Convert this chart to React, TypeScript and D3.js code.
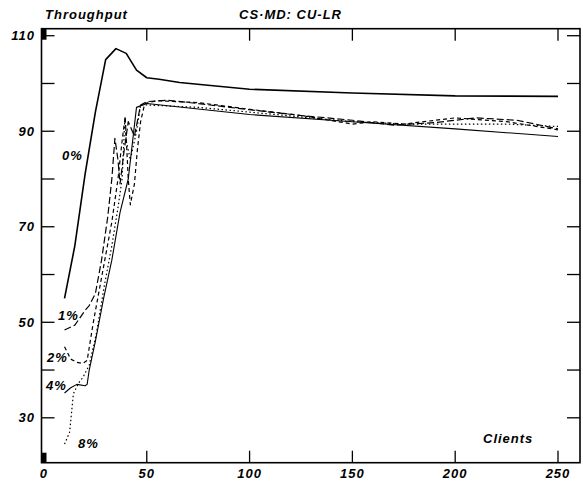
import React from "react";
import * as d3 from "d3";

const xTicks = [0, 50, 100, 150, 200, 250];
const yTicks = [30, 40, 50, 60, 70, 80, 90, 100, 110];
const yLabels = [30, 50, 70, 90, 110];

const s0: [number, number][] = [
  [10, 55], [15, 66], [20, 81], [25, 94], [30, 105], [35, 107.3], [40, 106.3], [45, 102.8],
  [50, 101.2], [56, 100.9], [66, 100.2], [76, 99.8], [100, 98.8], [150, 98], [200, 97.4], [250, 97.3],
];
const s1: [number, number][] = [
  [10, 48.4], [15, 49.4], [20, 52.5], [22, 53.5], [25, 56], [28, 63], [31, 72], [33, 80], [34.5, 88.5],
  [36, 84], [37, 79], [39, 86], [41, 92], [44, 89], [47, 95.5], [50, 96.2], [60, 96.5], [75, 95.8],
  [100, 94.5], [125, 93.3], [150, 92.3], [170, 91.3], [190, 91.8], [210, 92.8], [230, 92.3], [250, 90.5],
];
const s2: [number, number][] = [
  [10, 44.9], [13, 42.3], [16, 41.6], [19, 41.4], [21, 42], [24, 50], [27, 57], [30, 64], [33, 71],
  [36, 80], [38, 88], [39.5, 93], [41, 80], [42, 74.6], [44, 79], [45.4, 86], [47, 92], [49, 95.8],
  [55, 96.4], [75, 96], [100, 94.6], [125, 93.3], [150, 91.5], [160, 92], [175, 91.5], [200, 92.8],
  [225, 92], [250, 90.3],
];
const s4: [number, number][] = [
  [10, 35.2], [13, 36.3], [16, 37], [20, 36.7], [21, 37], [22, 40], [25, 46], [29, 55], [33, 63],
  [37, 73], [41, 80], [45, 95], [50, 95.8], [100, 93.5], [150, 92], [200, 90.5], [250, 88.9],
];
const s8: [number, number][] = [
  [10, 24.5], [12.5, 27], [14.3, 35], [16.7, 37.2], [19, 38.5], [22, 41], [25.5, 47.7], [29.5, 58],
  [33, 66], [36, 74], [38, 80], [39.4, 93], [40, 88], [42, 84], [45, 90], [47, 95.5], [50, 95.5],
  [75, 95], [100, 94], [125, 93], [150, 92], [175, 91.5], [200, 91.5], [225, 91.5], [250, 91],
];

const series = [
  { name: "0%", data: s0, dash: "", width: 1.6 },
  { name: "1%", data: s1, dash: "7,3", width: 1.2 },
  { name: "2%", data: s2, dash: "4,3", width: 1.2 },
  { name: "4%", data: s4, dash: "", width: 1.1 },
  { name: "8%", data: s8, dash: "1.5,2.5", width: 1.2 },
];

const labels = [
  { text: "0%", x: 62, y: 160 },
  { text: "1%", x: 58, y: 320 },
  { text: "2%", x: 47, y: 362 },
  { text: "4%", x: 46, y: 390 },
  { text: "8%", x: 78, y: 448 },
];

export default function App() {
  const W = 583, H = 483;
  const L = 41.5, R = 580, T = 28.7, B = 462.7;
  const x = d3.scaleLinear().domain([-1.2, 260.7]).range([L, R]);
  const y = d3.scaleLinear().domain([20.6, 111.47]).range([B, T]);
  const line = d3.line<[number, number]>().x((d) => x(d[0])).y((d) => y(d[1]));
  const font = "'Liberation Sans', Arial, sans-serif";
  const txt = { fontFamily: font, fontWeight: 700, fontStyle: "italic", fontSize: 13, letterSpacing: 1 } as const;
  return (
    <svg width={W} height={H} style={{ position: "absolute", left: 0, top: 0 }}>
      <rect x={0} y={0} width={W} height={H} fill="#fff" />
      <text x={45} y={19} {...txt}>Throughput</text>
      <text x={239} y={19} {...txt}>CS·MD: CU-LR</text>
      <rect x={L} y={T} width={R - L} height={B - T} fill="none" stroke="#000" strokeWidth={1.6} />
      <rect x={L} y={T} width={5} height={11} fill="#000" />
      <rect x={L} y={B - 10} width={5} height={10} fill="#000" />
      {yTicks.map((v) => (
        <g key={"y" + v}>
          <line x1={L} x2={L + 13} y1={y(v)} y2={y(v)} stroke="#000" strokeWidth={1.3} />
          <line x1={R - 13} x2={R} y1={y(v)} y2={y(v)} stroke="#000" strokeWidth={1.3} />
        </g>
      ))}
      {yLabels.map((v) => (
        <text key={"yl" + v} x={35} y={y(v) + 4.5} textAnchor="end" {...txt}>{v}</text>
      ))}
      {xTicks.filter((v) => v > 0).map((v) => (
        <g key={"x" + v}>
          <line x1={x(v)} x2={x(v)} y1={B} y2={B - 12} stroke="#000" strokeWidth={1.3} />
          <line x1={x(v)} x2={x(v)} y1={T} y2={T + 12} stroke="#000" strokeWidth={1.3} />
        </g>
      ))}
      {xTicks.map((v) => (
        <text key={"xl" + v} x={x(v)} y={478} textAnchor="middle" {...txt}>{v}</text>
      ))}
      {series.map((s) => (
        <path key={s.name} d={line(s.data) || ""} fill="none" stroke="#000"
          strokeWidth={s.width} strokeDasharray={s.dash || undefined} strokeLinejoin="round" />
      ))}
      {labels.map((l) => (
        <text key={l.text} x={l.x} y={l.y} {...txt}>{l.text}</text>
      ))}
      <text x={483} y={443} {...txt}>Clients</text>
    </svg>
  );
}
